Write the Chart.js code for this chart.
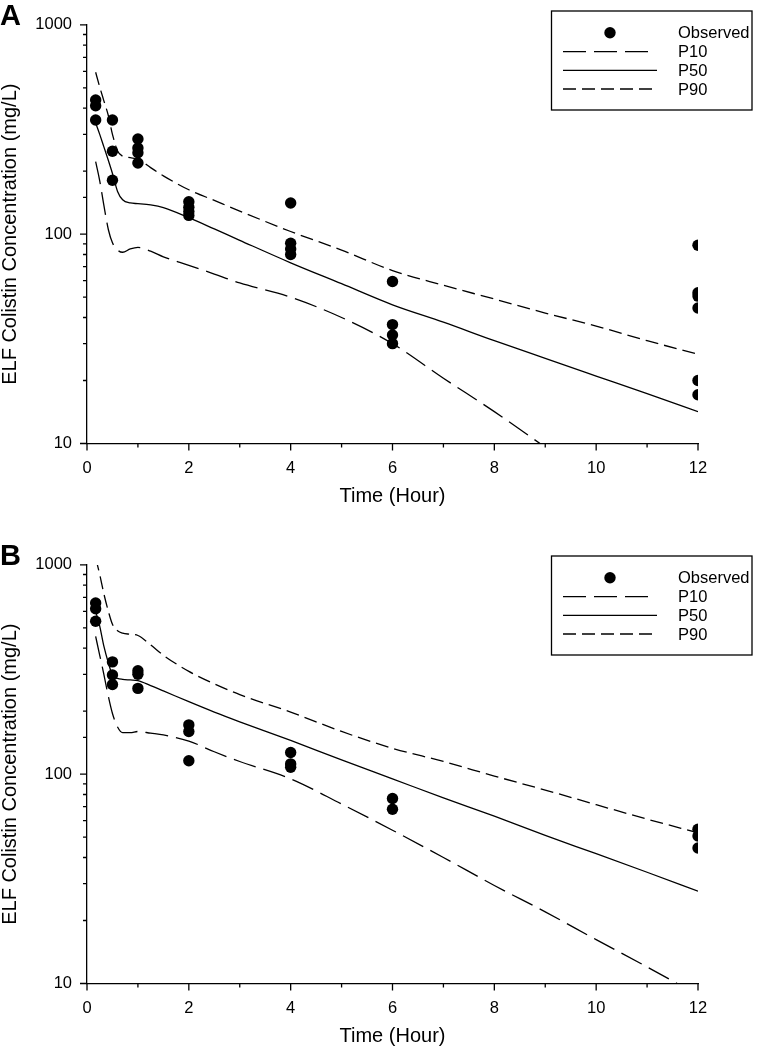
<!DOCTYPE html>
<html>
<head>
<meta charset="utf-8">
<script src="https://cdn.jsdelivr.net/npm/chart.js@4.4.0/dist/chart.umd.min.js"></script>
<style>
  html, body { margin: 0; padding: 0; background: #fff; overflow: hidden; }
  .panel { position: absolute; left: 0; width: 766px; height: 510px; }
  #panelA { top: 0; }
  #panelB { top: 540px; }
</style>
</head>
<body>
<div class="panel" id="panelA"><canvas id="chartA" width="766" height="510"></canvas></div>
<div class="panel" id="panelB"><canvas id="chartB" width="766" height="510"></canvas></div>
<script>
// observed ELF colistin concentrations (mg/L) vs time (h)
const obsTimeA = [0.17, 0.17, 0.17, 0.5, 0.5, 0.5, 1, 1, 1, 1, 2, 2, 2, 2, 4, 4, 4, 4, 6, 6, 6, 6, 12, 12, 12, 12, 12, 12];
const obsConcA = [438, 411, 351, 351, 249, 181, 285, 258, 245, 219, 143, 134.5, 128.5, 123, 141, 90.6, 85, 80, 59.4, 37, 33, 30, 88.5, 52.5, 50.6, 44.4, 20, 17.1];

const obsTimeB = [0.17, 0.17, 0.17, 0.5, 0.5, 0.5, 1, 1, 1, 2, 2, 2, 4, 4, 4, 6, 6, 12, 12, 12];
const obsConcB = [658, 617, 538, 344, 298, 268, 312, 300, 257, 172, 160, 116, 127, 112, 108, 76.5, 68, 54.6, 50.7, 44.4];

// simulated percentiles
const predTime = [0.17, 0.25, 0.33, 0.42, 0.5, 0.6, 0.7, 0.85, 1, 1.25, 1.5, 2, 2.5, 3, 4, 5, 6, 7, 8, 9, 10, 11, 12];

const p10A = [222, 180, 138, 105, 91, 84, 82, 85, 86.5, 83, 78, 71, 64.5, 58.5, 50, 40, 30, 20.5, 14.2, 9.6];
const p50A = [340, 300, 262, 225, 195, 160, 146, 141, 140, 138, 134, 120, 106, 93.5, 73, 58, 46, 38, 31, 25.5, 21, 17.3, 14.2];
const p90A = [594, 505, 435, 368, 300, 250, 236, 232, 228, 208, 190, 163, 145, 129, 103, 84, 67, 57, 49, 42, 36.4, 31, 26.7];

const p10B = [455, 370, 301, 235, 195, 168, 158, 158, 160, 157, 154, 144, 128, 115, 95, 72, 54, 40, 29.4, 22, 16.2, 12, 8.8];
const p50B = [600, 510, 410, 340, 297, 287, 284, 282, 280, 265, 250, 222, 198, 178, 145, 117, 95, 77, 63, 51, 41.7, 34, 27.6];
const p90B = [1080, 900, 730, 600, 520, 485, 472, 466, 460, 415, 370, 310, 270, 240, 198, 160, 133, 115, 98, 84, 71.5, 61, 52.5];

const FONT = "'Liberation Sans', Arial, sans-serif";

function pts(xs, ys) {
  return ys.map((y, i) => ({ x: xs[i], y: y }));
}

function isDecade(v) {
  const l = Math.log10(v);
  return Math.abs(l - Math.round(l)) < 1e-9;
}

// short outside tick marks, longer on labelled ticks
const tickMarks = {
  id: 'tickMarks',
  afterDraw(chart) {
    const ctx = chart.ctx;
    const xs = chart.scales.x, ys = chart.scales.y;
    ctx.save();
    ctx.strokeStyle = '#000';
    ctx.lineWidth = 1.3;
    ctx.beginPath();
    xs.ticks.forEach(t => {
      const px = xs.getPixelForValue(t.value);
      const len = t.value % 2 === 0 ? 7 : 4;
      ctx.moveTo(px, xs.top);
      ctx.lineTo(px, xs.top + len);
    });
    ys.ticks.forEach(t => {
      const py = ys.getPixelForValue(t.value);
      const len = isDecade(t.value) ? 7 : 4;
      ctx.moveTo(ys.right - len, py);
      ctx.lineTo(ys.right, py);
    });
    ctx.stroke();
    ctx.restore();
  }
};

// panel letter and boxed legend
const panelDecor = {
  id: 'panelDecor',
  afterDraw(chart, args, opts) {
    const ctx = chart.ctx;
    ctx.save();
    ctx.fillStyle = '#000';
    ctx.font = 'bold 29px ' + FONT;
    ctx.textBaseline = 'alphabetic';
    ctx.textAlign = 'left';
    ctx.fillText(opts.letter, 0, 25);

    const top = opts.legendTop;
    const left = 551.5;
    ctx.strokeStyle = '#000';
    ctx.lineWidth = 1.3;
    ctx.strokeRect(left, top, 200.5, 99);

    const rows = [21.7, 40.7, 59.3, 78];
    const lineEnds = [0, 648, 657, 652];
    ctx.font = '16.5px ' + FONT;
    ctx.textBaseline = 'middle';
    chart.data.datasets.forEach((ds, i) => {
      const y = top + rows[i];
      if (ds.showLine === false) {
        ctx.beginPath();
        ctx.arc(610, y, ds.pointRadius, 0, Math.PI * 2);
        ctx.fillStyle = ds.backgroundColor;
        ctx.fill();
      } else {
        ctx.beginPath();
        ctx.setLineDash(ds.borderDash || []);
        ctx.lineWidth = ds.borderWidth;
        ctx.strokeStyle = ds.borderColor;
        ctx.moveTo(563, y);
        ctx.lineTo(lineEnds[i], y);
        ctx.stroke();
        ctx.setLineDash([]);
      }
      ctx.fillStyle = '#000';
      ctx.fillText(ds.label, 678, y + 1);
    });
    ctx.restore();
  }
};

function makeChart(canvasId, letter, legendTop, obsT, obsC, p10, p50, p90) {
  const ctx = document.getElementById(canvasId).getContext('2d');
  return new Chart(ctx, {
    type: 'scatter',
    data: {
      datasets: [
        {
          label: 'Observed',
          data: pts(obsT, obsC),
          showLine: false,
          pointRadius: 5.7,
          pointHoverRadius: 5.7,
          backgroundColor: '#000',
          borderColor: '#000',
          borderWidth: 0
        },
        {
          label: 'P10',
          data: pts(predTime, p10),
          showLine: true,
          pointRadius: 0,
          borderColor: '#000',
          borderWidth: 1.3,
          borderDash: [23, 8],
          cubicInterpolationMode: 'monotone'
        },
        {
          label: 'P50',
          data: pts(predTime, p50),
          showLine: true,
          pointRadius: 0,
          borderColor: '#000',
          borderWidth: 1.3,
          cubicInterpolationMode: 'monotone'
        },
        {
          label: 'P90',
          data: pts(predTime, p90),
          showLine: true,
          pointRadius: 0,
          borderColor: '#000',
          borderWidth: 1.3,
          borderDash: [13, 6],
          cubicInterpolationMode: 'monotone'
        }
      ]
    },
    options: {
      responsive: false,
      animation: false,
      events: [],
      layout: { padding: { top: 15, right: 68, left: 0, bottom: 0 } },
      plugins: {
        legend: { display: false },
        tooltip: { enabled: false },
        panelDecor: { letter: letter, legendTop: legendTop }
      },
      scales: {
        x: {
          type: 'linear',
          min: 0,
          max: 12,
          grid: { display: false, drawTicks: false },
          border: { display: true, color: '#000', width: 1.3 },
          ticks: {
            stepSize: 1,
            autoSkip: false,
            maxRotation: 0,
            padding: 15,
            color: '#000',
            font: { size: 16.5, family: FONT },
            callback: v => (v % 2 === 0 ? String(v) : '')
          },
          title: {
            display: true,
            text: 'Time (Hour)',
            color: '#000',
            font: { size: 20, family: FONT, lineHeight: 1.2 },
            padding: { top: 0, bottom: 2 }
          },
          afterFit: s => { s.height = 66.5; }
        },
        y: {
          type: 'logarithmic',
          min: 10,
          max: 1000,
          grid: { display: false, drawTicks: false },
          border: { display: true, color: '#000', width: 1.3 },
          ticks: {
            autoSkip: false,
            padding: 15,
            color: '#000',
            font: { size: 16.5, family: FONT },
            callback: v => (isDecade(v) ? String(Math.round(v)) : '')
          },
          title: {
            display: true,
            text: 'ELF Colistin Concentration (mg/L)',
            color: '#000',
            font: { size: 20, family: FONT, lineHeight: 1 },
            padding: { top: 0, bottom: 0 }
          },
          afterFit: s => { s.width = 87; }
        }
      }
    },
    plugins: [tickMarks, panelDecor]
  });
}

makeChart('chartA', 'A', 11, obsTimeA, obsConcA, p10A, p50A, p90A);
makeChart('chartB', 'B', 16, obsTimeB, obsConcB, p10B, p50B, p90B);
</script>
</body>
</html>
